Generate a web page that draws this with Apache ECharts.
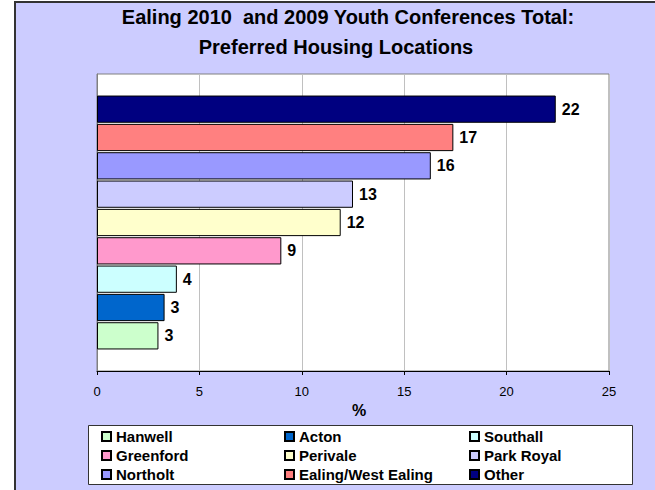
<!DOCTYPE html>
<html>
<head>
<meta charset="utf-8">
<script src="https://cdn.jsdelivr.net/npm/echarts@6/dist/echarts.min.js"></script>
<style>
  html, body { margin: 0; padding: 0; background: #ffffff; }
  #chart { width: 655px; height: 490px; }
</style>
</head>
<body>
<div id="chart"></div>
<script>
// Preferred housing locations (% of responses), bottom to top as drawn
const locations = ['Hanwell', 'Acton', 'Southall', 'Greenford', 'Perivale', 'Park Royal', 'Northolt', 'Ealing/West Ealing', 'Other'];
const percentages = [3.0, 3.3, 3.9, 9.0, 11.9, 12.5, 16.3, 17.4, 22.4];
const barColors = ['#CCFFCC', '#0066CC', '#CCFFFF', '#FF99CC', '#FFFFCC', '#CCCCFF', '#9999FF', '#FF8080', '#000080'];
const titleLines = ['Ealing 2010  and 2009 Youth Conferences Total:', 'Preferred Housing Locations'];
const axisTitle = '%';
const valueTicks = { min: 0, max: 25, step: 5 };

// legend columns (three rows each)
const legendColumns = [
  ['Hanwell', 'Greenford', 'Northolt'],
  ['Acton', 'Perivale', 'Ealing/West Ealing'],
  ['Southall', 'Park Royal', 'Other']
];

const FONT = "'Liberation Sans', Arial, sans-serif";

// ECharts puts series[0] at the top of a horizontal cluster, so feed them top-down
const order = locations.map((_, i) => i).reverse();
const series = order.map(i => ({
  name: locations[i],
  type: 'bar',
  data: [percentages[i]],
  barGap: '4%',
  barCategoryGap: '14.5%',
  itemStyle: { color: barColors[i], borderColor: '#000000', borderWidth: 1 },
  label: {
    show: true,
    position: 'right',
    distance: 6,
    color: '#000000',
    fontFamily: FONT,
    fontWeight: 'bold',
    fontSize: 16,
    formatter: p => String(Math.round(p.value))
  },
  emphasis: { disabled: true }
}));

const legendLefts = [101, 284, 469];
const legends = legendColumns.map((col, k) => ({
  data: col,
  orient: 'vertical',
  left: legendLefts[k],
  top: 429,
  padding: 0,
  itemGap: 4,
  itemWidth: 9,
  itemHeight: 9,
  icon: 'rect',
  selectedMode: false,
  textStyle: { fontFamily: FONT, fontWeight: 'bold', fontSize: 15, color: '#000000' }
}));

const chart = echarts.init(document.getElementById('chart'), null, { renderer: 'svg' });
chart.setOption({
  backgroundColor: '#ffffff',
  animation: false,
  title: [
    { text: titleLines[0], left: 348, top: 7, padding: 0, textAlign: 'center',
      textStyle: { fontFamily: FONT, fontWeight: 'bold', fontSize: 20, color: '#000000' } },
    { text: titleLines[1], left: 336, top: 37, padding: 0, textAlign: 'center',
      textStyle: { fontFamily: FONT, fontWeight: 'bold', fontSize: 20, color: '#000000' } }
  ],
  graphic: [
    { type: 'rect', z: -10, silent: true,
      shape: { x: 15, y: 2, width: 700, height: 600 },
      style: { fill: '#CCCCFF', stroke: '#333333', lineWidth: 2 } },
    { type: 'rect', z: -5, silent: true,
      shape: { x: 88.5, y: 425.5, width: 544, height: 59 },
      style: { fill: '#ffffff', stroke: '#333333', lineWidth: 1 } }
  ],
  legend: legends,
  grid: {
    left: 97, right: 46, top: 74, bottom: 119,
    show: true, backgroundColor: '#ffffff', borderColor: '#808080', borderWidth: 1,
    containLabel: false
  },
  xAxis: {
    type: 'value',
    min: valueTicks.min,
    max: valueTicks.max,
    interval: valueTicks.step,
    name: axisTitle,
    nameLocation: 'middle',
    nameGap: 26,
    nameTextStyle: { fontFamily: FONT, fontWeight: 'bold', fontSize: 16, color: '#000000', padding: [0, 0, 0, 12] },
    axisLine: { show: true, lineStyle: { color: '#000000', width: 1 } },
    axisTick: { show: true, length: 4, inside: false, lineStyle: { color: '#000000' } },
    axisLabel: { fontFamily: FONT, fontSize: 13, color: '#000000', margin: 14 },
    splitLine: { show: true, lineStyle: { color: '#C0C0C0', width: 1 } }
  },
  yAxis: {
    type: 'category',
    data: [''],
    axisLine: { show: true, lineStyle: { color: '#808080', width: 1 } },
    axisTick: { show: false },
    axisLabel: { show: false },
    splitLine: { show: false }
  },
  series: series
});
</script>
</body>
</html>
